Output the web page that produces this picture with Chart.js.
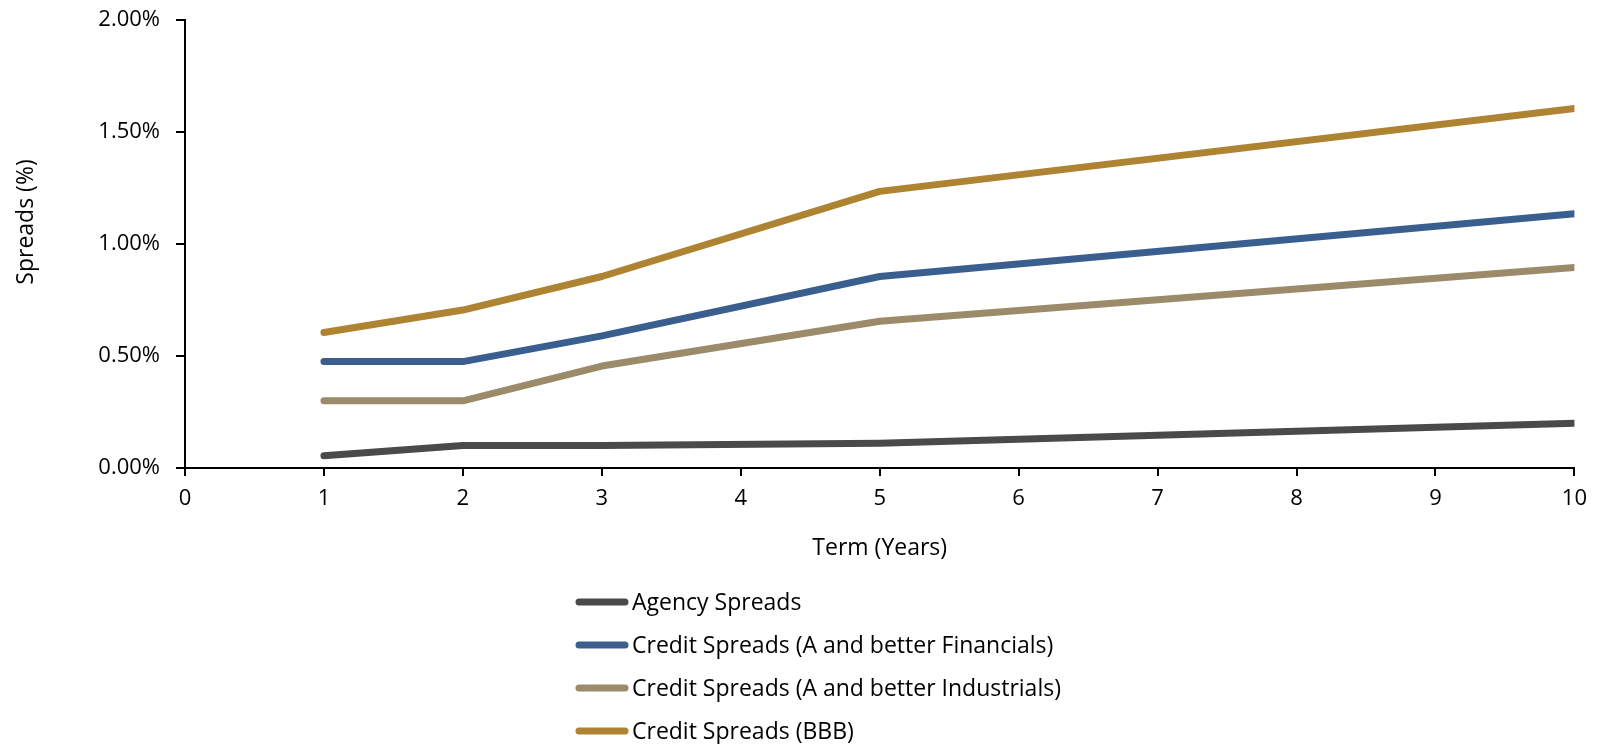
<!DOCTYPE html>
<html>
<head>
    <title>Spreads by Term</title>
    <script src="https://cdn.jsdelivr.net/npm/chart.js"></script>
    <style>
        body {
            margin: 0;
            padding: 0;
            background-color: #ffffff;
        }
        .chart-container {
            width: 1597px;
            height: 744px;
        }
    </style>
</head>
<body>
    <div class="chart-container">
        <canvas id="spreadChart" width="1597" height="744"></canvas>
    </div>

    <script>
        // term in years and spreads in percent
        const terms = [1, 2, 3, 5, 10];
        const agencySpreads = [0.055, 0.10, 0.10, 0.11, 0.20];
        const financialsSpreads = [0.475, 0.475, 0.59, 0.855, 1.135];
        const industrialsSpreads = [0.30, 0.30, 0.455, 0.655, 0.895];
        const bbbSpreads = [0.605, 0.705, 0.855, 1.235, 1.605];

        const seriesNames = [
            'Agency Spreads',
            'Credit Spreads (A and better Financials)',
            'Credit Spreads (A and better Industrials)',
            'Credit Spreads (BBB)'
        ];
        const seriesColors = ['#4a4a4a', '#3a5f8e', '#9c8b6b', '#ae8433'];
        const xTicks = [0, 1, 2, 3, 4, 5, 6, 7, 8, 9, 10];
        const yTicks = [0, 0.5, 1.0, 1.5, 2.0];
        const yTitle = 'Spreads (%)';

        const fontFamily = "'Open Sans', 'Noto Sans', sans-serif";
        Chart.defaults.font.family = fontFamily;
        Chart.defaults.font.size = 22;
        Chart.defaults.color = '#000000';

        function toPoints(values) {
            return values.map((v, i) => ({ x: terms[i], y: v }));
        }

        const allSeries = [agencySpreads, financialsSpreads, industrialsSpreads, bbbSpreads];

        // y title sits a bit above the axis middle, legend is stacked under the x title
        const sideTexts = {
            id: 'sideTexts',
            afterDraw(chart) {
                const c = chart.ctx;
                const area = chart.chartArea;
                c.save();
                c.font = '23px ' + fontFamily;
                c.fillStyle = '#000000';
                c.textAlign = 'center';
                c.textBaseline = 'middle';
                c.translate(26, (area.top + area.bottom) / 2 - 22);
                c.rotate(-Math.PI / 2);
                c.fillText(yTitle, 0, 0);
                c.restore();

                const left = 575;
                const top = 602;
                const rowGap = 43;
                c.save();
                c.font = '23px ' + fontFamily;
                c.textBaseline = 'middle';
                chart.data.datasets.forEach((ds, i) => {
                    const y = top + i * rowGap;
                    c.strokeStyle = ds.borderColor;
                    c.lineWidth = 7;
                    c.lineCap = 'round';
                    c.beginPath();
                    c.moveTo(left + 4, y);
                    c.lineTo(left + 50, y);
                    c.stroke();
                    c.fillStyle = '#000000';
                    c.fillText(ds.label, left + 57, y + 1);
                });
                c.restore();
            }
        };

        const ctx = document.getElementById('spreadChart').getContext('2d');
        const spreadChart = new Chart(ctx, {
            type: 'line',
            data: {
                datasets: allSeries.map((values, i) => ({
                    label: seriesNames[i],
                    data: toPoints(values),
                    borderColor: seriesColors[i],
                    backgroundColor: seriesColors[i],
                    borderWidth: 7,
                    borderCapStyle: 'round',
                    borderJoinStyle: 'round',
                    pointRadius: 0,
                    tension: 0
                }))
            },
            options: {
                responsive: false,
                animation: false,
                layout: {
                    padding: { left: 0, top: 20, right: 22, bottom: 172 }
                },
                plugins: {
                    legend: { display: false },
                    tooltip: { enabled: false }
                },
                scales: {
                    x: {
                        type: 'linear',
                        min: 0,
                        max: 10,
                        afterBuildTicks: (axis) => {
                            axis.ticks = xTicks.map(v => ({ value: v }));
                        },
                        grid: {
                            drawOnChartArea: false,
                            drawTicks: true,
                            tickLength: 8,
                            color: '#000000',
                            lineWidth: 2
                        },
                        border: { display: true, color: '#000000', width: 2 },
                        ticks: { padding: 10, font: { size: 22 } },
                        title: {
                            display: true,
                            text: 'Term (Years)',
                            font: { size: 23 },
                            padding: { top: 2, bottom: 10 }
                        },
                        afterFit: (axis) => { axis.height = 104; }
                    },
                    y: {
                        min: 0,
                        max: 2,
                        afterBuildTicks: (axis) => {
                            axis.ticks = yTicks.map(v => ({ value: v }));
                        },
                        grid: {
                            drawOnChartArea: false,
                            drawTicks: true,
                            tickLength: 9,
                            color: '#000000',
                            lineWidth: 2
                        },
                        border: { display: true, color: '#000000', width: 2 },
                        ticks: {
                            padding: 16,
                            font: { size: 22 },
                            callback: (v) => v.toFixed(2) + '%'
                        },
                        afterFit: (axis) => {
                            axis.width = 185;
                            axis.paddingTop = 0;
                        }
                    }
                }
            },
            plugins: [sideTexts]
        });
    </script>
</body>
</html>
